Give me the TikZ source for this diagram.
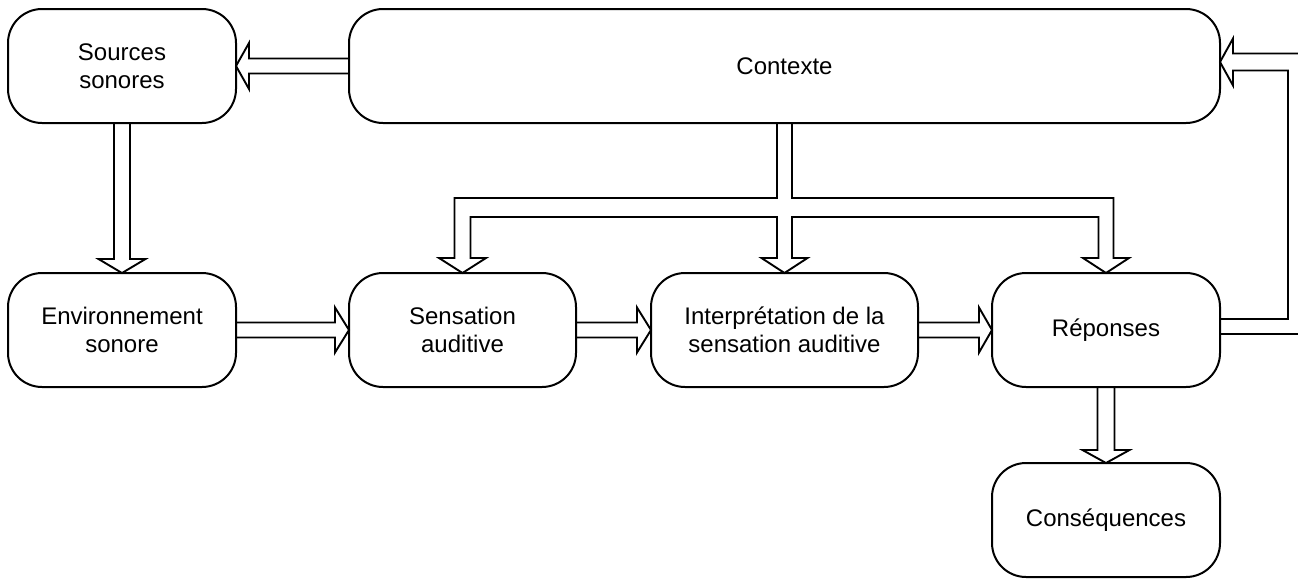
\documentclass[tikz,border=0pt]{standalone}
\usepackage{fontspec}
\setmainfont{Liberation Sans}
\usetikzlibrary{calc}
\tikzset{
  box/.style={draw, line width=2pt, rounded corners=34pt, minimum width=228pt, minimum height=114pt,
    inner sep=0pt, outer sep=0pt, align=center, font=\fontsize{24}{28}\selectfont},
  arr/.style={draw, line width=1.9pt, line join=miter, fill=none}
}
\begin{document}
\begin{tikzpicture}[x=1pt,y=-1pt]
\useasboundingbox (0,0) rectangle (1298,579);
\fill[white] (0,0) rectangle (1298,579);
\clip (0,0) rectangle (1298,579);

\node[box] (src) at (122,66) {Sources\\sonores};
\node[box, minimum width=871pt] (ctx) at (784.5,66) {Contexte};
\node[box] (env) at (122,330) {Environnement\\sonore};
\node[box, minimum width=227pt] (sens) at (462.5,330) {Sensation\\auditive};
\node[box, minimum width=267pt] (interp) at (784.5,330) {Interprétation de la\\sensation auditive};
\node[box] (rep) at (1106,330) {Réponses};
\node[box] (cons) at (1106,520) {Conséquences};

% Contexte -> Sources
\draw[arr] ($(ctx.west)+(0,-7.5)$) -- ($(src.east)+(13,-7.5)$) -- ($(src.east)+(13,-23)$) -- (src.east)
  -- ($(src.east)+(13,23)$) -- ($(src.east)+(13,7.5)$) -- ($(ctx.west)+(0,7.5)$);

% Sources -> Environnement
\draw[arr] ($(src.south)+(-8,0)$) -- ($(env.north)+(-8,-14)$) -- ($(env.north)+(-23.5,-14)$) -- (env.north)
  -- ($(env.north)+(23.5,-14)$) -- ($(env.north)+(8,-14)$) -- ($(src.south)+(8,0)$);

% Environnement -> Sensation
\draw[arr] ($(env.east)+(0,-7.5)$) -- ($(sens.west)+(-14,-7.5)$) -- ($(sens.west)+(-14,-22.5)$) -- (sens.west)
  -- ($(sens.west)+(-14,22.5)$) -- ($(sens.west)+(-14,7.5)$) -- ($(env.east)+(0,7.5)$);

% Sensation -> Interpretation
\draw[arr] ($(sens.east)+(0,-7.5)$) -- ($(interp.west)+(-14,-7.5)$) -- ($(interp.west)+(-14,-22.5)$) -- (interp.west)
  -- ($(interp.west)+(-14,22.5)$) -- ($(interp.west)+(-14,7.5)$) -- ($(sens.east)+(0,7.5)$);

% Interpretation -> Reponses
\draw[arr] ($(interp.east)+(0,-7.5)$) -- ($(rep.west)+(-13,-7.5)$) -- ($(rep.west)+(-13,-22.5)$) -- (rep.west)
  -- ($(rep.west)+(-13,22.5)$) -- ($(rep.west)+(-13,7.5)$) -- ($(interp.east)+(0,7.5)$);

% Reponses -> Consequences
\draw[arr] ($(rep.south)+(-8.5,0)$) -- ($(cons.north)+(-8.5,-13)$) -- ($(cons.north)+(-23.5,-13)$) -- (cons.north)
  -- ($(cons.north)+(23.5,-13)$) -- ($(cons.north)+(8.5,-13)$) -- ($(rep.south)+(8.5,0)$);

% Contexte -> Sensation, Interpretation, Reponses
\coordinate (yo) at ($(ctx.south)+(0,75)$);
\coordinate (yi) at ($(ctx.south)+(0,94)$);
\coordinate (yh) at ($(sens.north)+(0,-15)$);
\draw[arr] ($(ctx.south)+(-7.5,0)$) -- ($(yo)+(-7.5,0)$)
  -- ($(sens.north |- yo)+(-8,0)$) -- ($(sens.north |- yh)+(-8,0)$)
  -- ($(sens.north |- yh)+(-23.5,0)$) -- (sens.north) -- ($(sens.north |- yh)+(23.5,0)$)
  -- ($(sens.north |- yh)+(8,0)$) -- ($(sens.north |- yi)+(8,0)$)
  -- ($(yi)+(-7.5,0)$) -- ($(interp.north |- yh)+(-7.5,0)$)
  -- ($(interp.north |- yh)+(-23,0)$) -- (interp.north) -- ($(interp.north |- yh)+(23,0)$)
  -- ($(interp.north |- yh)+(7.5,0)$) -- ($(yi)+(7.5,0)$)
  -- ($(rep.north |- yi)+(-7.5,0)$) -- ($(rep.north |- yh)+(-7.5,0)$)
  -- ($(rep.north |- yh)+(-23,0)$) -- (rep.north) -- ($(rep.north |- yh)+(23,0)$)
  -- ($(rep.north |- yh)+(7.5,0)$) -- ($(rep.north |- yo)+(7.5,0)$)
  -- ($(yo)+(7.5,0)$) -- ($(ctx.south)+(7.5,0)$);

% Reponses -> Contexte (feedback)
\draw[arr] ($(rep.east)+(0,-11)$) -- ($(rep.east)+(68,-11)$) -- ($(ctx.east)+(68,4.5)$)
  -- ($(ctx.east)+(13,4.5)$) -- ($(ctx.east)+(13,19.5)$) -- ($(ctx.east)+(0,-4)$)
  -- ($(ctx.east)+(13,-27.5)$) -- ($(ctx.east)+(13,-12.5)$) -- ($(ctx.east)+(85,-12.5)$)
  -- ($(rep.east)+(85,4)$) -- ($(rep.east)+(0,4)$);
\end{tikzpicture}
\end{document}
